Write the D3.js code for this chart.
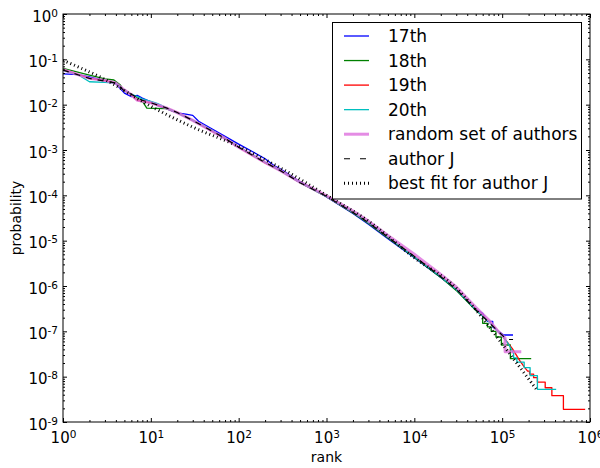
<!DOCTYPE html>
<html>
<head>
<meta charset="utf-8">
<script src="https://cdn.jsdelivr.net/npm/d3@7"></script>
<style>
html,body{margin:0;padding:0;background:#fff;}
svg{display:block;font-family:"DejaVu Sans",sans-serif;}
</style>
</head>
<body>
<svg id="chart" width="600" height="468"></svg>
<script>
// ---------------- data (rank, probability) ----------------
const series17 = [[1,0.048],[1.5,0.046],[2,0.041],[3,0.034],[4,0.029],[5,0.018],[6,0.015],[7,0.016],[8,0.014],[10,0.0115],[12,0.0095],[15,0.0082],[20,0.0066],[25,0.0062],[30,0.0058],[35,0.0043],[50,0.0029],[70,0.002],[100,0.00135],[150,8.8e-4],[200,6.4e-4],[250,4.6e-4],[300,3.8e-4],[500,2.0e-4],[1000,9.2e-5],[2000,4.0e-5],[3000,2.3e-5],[5000,1.1e-5],[10000,4.2e-6],[20000,1.55e-6],[30000,8.3e-7],[50000,3.1e-7],[60000,2.5e-7],[68000,1.66e-7],[78000,1.66e-7],[78000,1.25e-7],[104000,8.3e-8],[133000,8.3e-8]];
const series18 = [[1,0.063],[2,0.045],[3,0.037],[3.8,0.035],[4.5,0.027],[5,0.02],[6,0.017],[8,0.012],[9,0.0084],[11,0.0083],[15,0.0082],[20,0.0066],[30,0.0045],[50,0.0026],[70,0.0018],[100,0.00115],[200,5.3e-4],[300,3.5e-4],[500,1.9e-4],[1000,9.3e-5],[2000,4.1e-5],[3000,2.4e-5],[5000,1.15e-5],[10000,4.3e-6],[20000,1.55e-6],[30000,8e-7],[50000,2.9e-7],[60000,2.2e-7],[60000,1.5e-7],[68000,1.5e-7],[68000,1.25e-7],[75000,1.25e-7],[75000,1e-7],[85000,1e-7],[85000,7.5e-8],[98000,7.5e-8],[98000,5e-8],[124000,5e-8],[124000,2.5e-8],[214000,2.5e-8]];
const series19 = [[1,0.06],[2,0.038],[3,0.034],[4,0.03],[5,0.021],[6,0.017],[7,0.0125],[8,0.012],[10,0.011],[15,0.0085],[20,0.0068],[30,0.0045],[50,0.0026],[70,0.0018],[100,0.00115],[200,5.2e-4],[300,3.5e-4],[500,1.9e-4],[1000,9.5e-5],[2000,4.2e-5],[3000,2.5e-5],[5000,1.2e-5],[10000,4.5e-6],[20000,1.65e-6],[30000,8.6e-7],[50000,3.1e-7],[70000,1.7e-7],[100000,8e-8],[130000,4.2e-8],[160000,2.2e-8],[180000,1.6e-8],[195000,1.33e-8],[205000,1.33e-8],[205000,1.14e-8],[228000,1.14e-8],[228000,9.5e-9],[252000,9.5e-9],[252000,7.6e-9],[309000,7.6e-9],[309000,5.7e-9],[368000,5.7e-9],[368000,3.8e-9],[498000,3.8e-9],[498000,1.9e-9],[881000,1.9e-9]];
const series20 = [[1,0.057],[1.5,0.045],[2,0.032],[3,0.031],[4,0.03],[5,0.021],[6,0.017],[8,0.0135],[10,0.0118],[12,0.0105],[15,0.0085],[20,0.0067],[30,0.0045],[50,0.0027],[70,0.0018],[100,0.00118],[200,5.3e-4],[300,3.5e-4],[500,1.9e-4],[1000,9.4e-5],[2000,4.2e-5],[3000,2.5e-5],[5000,1.2e-5],[10000,4.4e-6],[20000,1.6e-6],[30000,8.4e-7],[50000,3e-7],[70000,1.65e-7],[100000,8e-8],[120000,5e-8],[135000,3.2e-8],[135000,2.6e-8],[147000,2.6e-8],[147000,2.1e-8],[178000,2.1e-8],[178000,1.58e-8],[208000,1.58e-8],[208000,1.05e-8],[252000,1.05e-8],[252000,5.25e-9],[412000,5.25e-9]];
const seriesRandom = [[1,0.059],[2,0.038],[3,0.034],[4,0.03],[5,0.021],[6,0.0165],[7,0.0125],[8,0.012],[10,0.011],[15,0.0085],[20,0.0067],[30,0.0045],[50,0.0026],[70,0.0018],[100,0.00115],[200,5.3e-4],[300,3.5e-4],[500,1.95e-4],[1000,9.8e-5],[2000,4.5e-5],[3000,2.7e-5],[5000,1.3e-5],[10000,5e-6],[20000,1.8e-6],[30000,9.5e-7],[50000,3.4e-7],[70000,1.8e-7],[90000,1e-7],[108000,7.1e-8],[108000,3.55e-8],[165000,3.55e-8]];
const seriesAuthorJ = [[1,0.058],[2,0.038],[3,0.033],[4,0.03],[5,0.02],[6,0.017],[8,0.0125],[10,0.011],[15,0.0085],[20,0.0067],[30,0.0045],[50,0.0026],[70,0.0018],[100,0.00115],[200,5.3e-4],[300,3.5e-4],[500,1.9e-4],[1000,9.5e-5],[2000,4.2e-5],[3000,2.5e-5],[5000,1.2e-5],[10000,4.5e-6],[20000,1.6e-6],[30000,8.5e-7],[50000,3e-7],[70000,1.6e-7],[90000,1e-7],[113000,6.6e-8],[133000,6.6e-8]];
const seriesBestFit = [[1,0.095],[3,0.036],[10,0.0092],[30,0.0032],[100,0.0012],[300,4e-4],[1000,1e-4],[3000,2.7e-5],[10000,4.2e-6],[30000,9e-7],[56000,2.3e-7],[100000,5.3e-8],[250000,5e-9]];

const legendLabels = ["17th","18th","19th","20th","random set of authors","author J","best fit for author J"];
const xMajorExp = [0,1,2,3,4,5,6];
const yMajorExp = [0,-1,-2,-3,-4,-5,-6,-7,-8,-9];

// ---------------- layout ----------------
const L = 63, R = 590, T = 14, B = 422;
const svg = d3.select("#chart");
const x = d3.scaleLog().domain([1, 1e6]).range([L, R]);
const y = d3.scaleLog().domain([1e-9, 1]).range([B, T]);

const styles = [
  {data: series17, color: "#0000ff", width: 1.3, dash: null, opacity: 1},
  {data: series18, color: "#008000", width: 1.3, dash: null, opacity: 1},
  {data: series19, color: "#ff0000", width: 1.3, dash: null, opacity: 1},
  {data: series20, color: "#00bfbf", width: 1.3, dash: null, opacity: 1},
  {data: seriesRandom, color: "#dd6fdd", width: 3, dash: null, opacity: 0.8},
  {data: seriesAuthorJ, color: "#000000", width: 1.2, dash: "6,6", opacity: 1},
  {data: seriesBestFit, color: "#000000", width: 3, dash: "1,3", opacity: 1, smooth: true}
];

svg.append("defs").append("clipPath").attr("id","clip")
  .append("rect").attr("x", L).attr("y", T).attr("width", R - L).attr("height", B - T);

const plot = svg.append("g").attr("clip-path", "url(#clip)");
styles.forEach(s => {
  const line = d3.line().x(d => x(d[0])).y(d => y(d[1]))
    .curve(s.smooth ? d3.curveMonotoneX : d3.curveLinear);
  plot.append("path").datum(s.data)
    .attr("d", line)
    .attr("fill", "none")
    .attr("stroke", s.color)
    .attr("stroke-width", s.width)
    .attr("stroke-opacity", s.opacity)
    .attr("stroke-dasharray", s.dash)
    .attr("stroke-linejoin", "round");
});

// ---------------- axes ----------------
const xMajor = xMajorExp.map(e => Math.pow(10, e));
const yMajor = yMajorExp.map(e => Math.pow(10, e));
const xMinor = [], yMinor = [];
for (let e = 0; e < 6; e++) for (let m = 2; m <= 9; m++) xMinor.push(m * Math.pow(10, e));
for (let e = -9; e < 0; e++) for (let m = 2; m <= 9; m++) yMinor.push(m * Math.pow(10, e));

function addAxis(axisFn, scale, vals, size, transform) {
  const g = svg.append("g").attr("transform", transform)
    .call(axisFn(scale).tickValues(vals).tickSizeInner(size).tickSizeOuter(0).tickFormat(""));
  g.select(".domain").remove();
  g.selectAll(".tick line").attr("stroke", "#000").attr("stroke-width", 1);
  return g;
}
// minor ticks
addAxis(d3.axisBottom, x, xMinor, -2, `translate(0,${B})`);
addAxis(d3.axisTop, x, xMinor, -2, `translate(0,${T})`);
addAxis(d3.axisLeft, y, yMinor, -2, `translate(${L},0)`);
addAxis(d3.axisRight, y, yMinor, -2, `translate(${R},0)`);
// major ticks
const xb = addAxis(d3.axisBottom, x, xMajor, -4, `translate(0,${B})`);
addAxis(d3.axisTop, x, xMajor, -4, `translate(0,${T})`);
const yl = addAxis(d3.axisLeft, y, yMajor, -4, `translate(${L},0)`);
addAxis(d3.axisRight, y, yMajor, -4, `translate(${R},0)`);

// tick labels with superscripts
xb.selectAll(".tick").each(function(d, i) {
  const t = d3.select(this).select("text");
  t.text(null).attr("y", 21).attr("dy", null).attr("x", 0)
    .attr("text-anchor", "middle").attr("fill", "#000")
    .style("font-size", "15px").style("font-family", "DejaVu Sans");
  t.append("tspan").text("10");
  t.append("tspan").attr("dy", -5).style("font-size", "10.5px").text(String(xMajorExp[i]));
});
yl.selectAll(".tick").each(function(d, i) {
  const t = d3.select(this).select("text");
  t.text(null).attr("x", -5).attr("y", 7).attr("dy", null)
    .attr("text-anchor", "end").attr("fill", "#000")
    .style("font-size", "15px").style("font-family", "DejaVu Sans");
  t.append("tspan").text("10");
  t.append("tspan").attr("dy", -5).style("font-size", "10.5px").text(String(yMajorExp[i]));
});

// frame
svg.append("rect").attr("x", L).attr("y", T).attr("width", R - L).attr("height", B - T)
  .attr("fill", "none").attr("stroke", "#000").attr("stroke-width", 1);

// axis titles
svg.append("text").attr("x", (L + R) / 2).attr("y", 462).attr("text-anchor", "middle")
  .style("font-size", "14px").text("rank");
svg.append("text").attr("transform", `translate(21,${(T + B) / 2}) rotate(-90)`)
  .attr("text-anchor", "middle").style("font-size", "14px").text("probability");

// ---------------- legend ----------------
const lg = svg.append("g");
lg.append("rect").attr("x", 332.5).attr("y", 22.5).attr("width", 249).attr("height", 176.5)
  .attr("fill", "#fff").attr("stroke", "#000").attr("stroke-width", 1);
legendLabels.forEach((lab, i) => {
  const cy = 36 + i * 24.55;
  const s = styles[i];
  lg.append("line").attr("x1", 344).attr("x2", 369).attr("y1", cy).attr("y2", cy)
    .attr("stroke", s.color).attr("stroke-width", s.width)
    .attr("stroke-opacity", s.opacity)
    .attr("stroke-dasharray", i === 5 ? "6,10" : s.dash);
  lg.append("text").attr("x", 388).attr("y", cy + 6).style("font-size", "17px").text(lab);
});
</script>
</body>
</html>
